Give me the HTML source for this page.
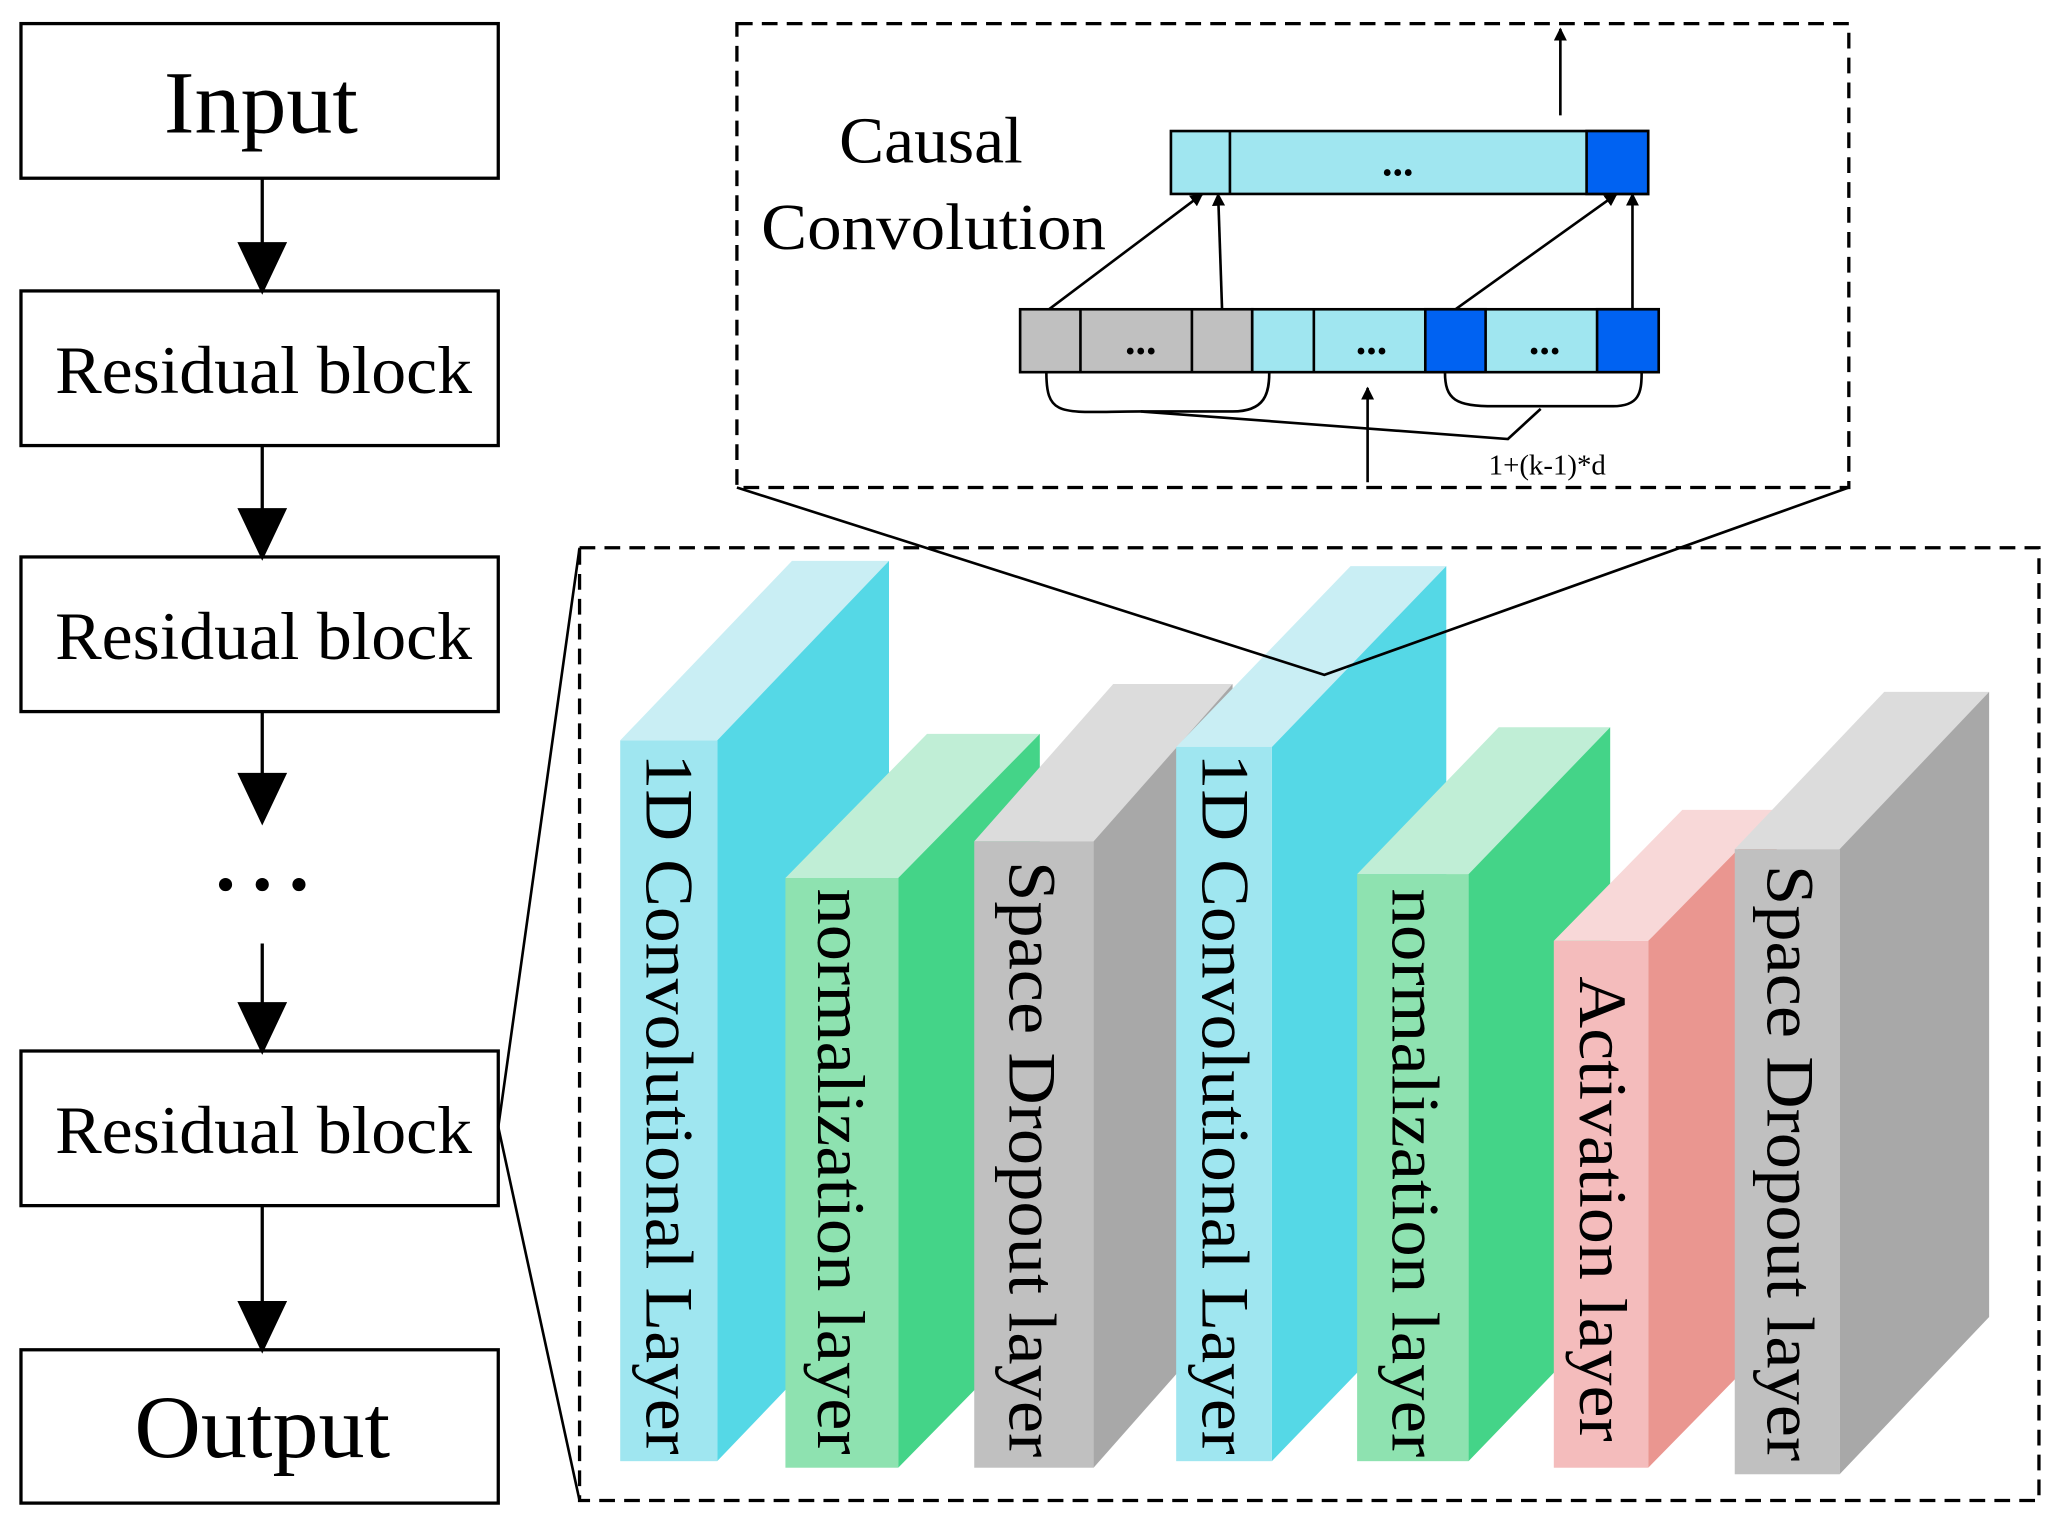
<!DOCTYPE html>
<html><head><meta charset="utf-8"><style>
html,body{margin:0;padding:0;background:#fff;}
svg{display:block;}
text{font-family:"Liberation Serif",serif;fill:#000;}
</style></head><body>
<svg width="2056" height="1528" viewBox="0 0 1568 1166" preserveAspectRatio="none" xmlns="http://www.w3.org/2000/svg">
<defs>
<marker id="ah" markerWidth="10" markerHeight="10" refX="9" refY="5" orient="auto" markerUnits="userSpaceOnUse"><path d="M0,0 L10,5 L0,10 z" fill="#000"/></marker>
</defs>
<!-- left column -->
<g stroke="#000" stroke-width="2.5" fill="#fff">
<rect x="16" y="18" width="364" height="118"/>
<rect x="16" y="222" width="364" height="118"/>
<rect x="16" y="425" width="364" height="118"/>
<rect x="16" y="802" width="364" height="118"/>
<rect x="16" y="1030" width="364" height="117"/>
</g>
<g font-size="68" text-anchor="middle" lengthAdjust="spacingAndGlyphs">
<text x="199" y="101" textLength="148" lengthAdjust="spacingAndGlyphs">Input</text>
<text x="200" y="1112" textLength="195" lengthAdjust="spacingAndGlyphs">Output</text>
</g>
<g font-size="52" text-anchor="middle">
<text x="201" y="300" textLength="318" lengthAdjust="spacingAndGlyphs">Residual block</text>
<text x="201" y="503" textLength="318" lengthAdjust="spacingAndGlyphs">Residual block</text>
<text x="201" y="880" textLength="318" lengthAdjust="spacingAndGlyphs">Residual block</text>
</g>
<circle cx="172" cy="675" r="5"/><circle cx="200" cy="675" r="5"/><circle cx="228" cy="675" r="5"/>
<g stroke="#000" stroke-width="2.5">
<line x1="200" y1="136" x2="200" y2="190"/><path d="M183,186 L217,186 L200,222 z" fill="#000"/>
<line x1="200" y1="340" x2="200" y2="393"/><path d="M183,389 L217,389 L200,425 z" fill="#000"/>
<line x1="200" y1="543" x2="200" y2="595"/><path d="M183,591 L217,591 L200,627 z" fill="#000"/>
<line x1="200" y1="720" x2="200" y2="770"/><path d="M183,766 L217,766 L200,802 z" fill="#000"/>
<line x1="200" y1="920" x2="200" y2="998"/><path d="M183,994 L217,994 L200,1030 z" fill="#000"/>
</g>
<!-- dashed boxes -->
<g fill="none" stroke="#000" stroke-width="2.5" stroke-dasharray="12,7">
<rect x="442" y="418" width="1113" height="727"/>
<rect x="562" y="18" width="848" height="354"/>
</g>
<polyline points="442,418 380,860 442,1145" stroke="#000" stroke-width="2" fill="none"/>
<!-- blocks -->
<g stroke="none">
<polygon points="473,565 547,565 678,428 604,428" fill="#c9eef4"/>
<polygon points="547,565 678,428 678,978 547,1115" fill="#55d8e6"/>
<rect x="473" y="565" width="74" height="550" fill="#9fe6f0"/>
<polygon points="599,670 685,670 793,560 707,560" fill="#c0eed6"/>
<polygon points="685,670 793,560 793,1010 685,1120" fill="#44d488"/>
<rect x="599" y="670" width="86" height="450" fill="#8ee2b0"/>
<polygon points="743,642 834,642 940,522 849,522" fill="#dcdcdc"/>
<polygon points="834,642 940,522 940,1000 834,1120" fill="#a8a8a8"/>
<rect x="743" y="642" width="91" height="478" fill="#c0c0c0"/>
<polygon points="897,570 970,570 1103,432 1030,432" fill="#c9eef4"/>
<polygon points="970,570 1103,432 1103,977 970,1115" fill="#55d8e6"/>
<rect x="897" y="570" width="73" height="545" fill="#9fe6f0"/>
<polygon points="1035,667 1120,667 1228,555 1143,555" fill="#c0eed6"/>
<polygon points="1120,667 1228,555 1228,1003 1120,1115" fill="#44d488"/>
<rect x="1035" y="667" width="85" height="448" fill="#8ee2b0"/>
<polygon points="1185,718 1257,718 1355,618 1283,618" fill="#f8d8d8"/>
<polygon points="1257,718 1355,618 1355,1020 1257,1120" fill="#ea9690"/>
<rect x="1185" y="718" width="72" height="402" fill="#f4bcbc"/>
<polygon points="1323,648 1403,648 1517,528 1437,528" fill="#dcdcdc"/>
<polygon points="1403,648 1517,528 1517,1005 1403,1125" fill="#a8a8a8"/>
<rect x="1323" y="648" width="80" height="477" fill="#c0c0c0"/>
</g>
<g font-size="52">
<text transform="translate(493,575) rotate(90)" textLength="535" lengthAdjust="spacingAndGlyphs">1D Convolutional Layer</text>
<text transform="translate(624,678) rotate(90)" textLength="432" lengthAdjust="spacingAndGlyphs">normalization layer</text>
<text transform="translate(770,657) rotate(90)" textLength="455" lengthAdjust="spacingAndGlyphs">Space Dropout layer</text>
<text transform="translate(917,575) rotate(90)" textLength="535" lengthAdjust="spacingAndGlyphs">1D Convolutional Layer</text>
<text transform="translate(1062,678) rotate(90)" textLength="434" lengthAdjust="spacingAndGlyphs">normalization layer</text>
<text transform="translate(1205,745) rotate(90)" textLength="355" lengthAdjust="spacingAndGlyphs">Activation layer</text>
<text transform="translate(1348,660) rotate(90)" textLength="455" lengthAdjust="spacingAndGlyphs">Space Dropout layer</text>
</g>
<polyline points="562,372 1010,515 1410,372" fill="none" stroke="#000" stroke-width="2"/>
<!-- causal conv -->
<text x="710" y="124" font-size="50" text-anchor="middle" textLength="140" lengthAdjust="spacingAndGlyphs">Causal</text>
<text x="712" y="190" font-size="50" text-anchor="middle" textLength="263" lengthAdjust="spacingAndGlyphs">Convolution</text>
<g stroke="#000" stroke-width="2">
<rect x="893" y="100" width="364" height="48" fill="#a0e6f0"/>
<line x1="938" y1="100" x2="938" y2="148"/>
<rect x="1210" y="100" width="47" height="48" fill="#0062f2"/>
<rect x="778" y="236" width="177" height="48" fill="#c0c0c0"/>
<line x1="824" y1="236" x2="824" y2="284"/><line x1="909" y1="236" x2="909" y2="284"/>
<rect x="955" y="236" width="310" height="48" fill="#a0e6f0"/>
<line x1="1002" y1="236" x2="1002" y2="284"/>
<rect x="1087" y="236" width="46" height="48" fill="#0062f2"/>
<rect x="1218" y="236" width="47" height="48" fill="#0062f2"/>
<line x1="1190" y1="88" x2="1190" y2="22" marker-end="url(#ah)"/>
<line x1="800" y1="236" x2="917" y2="148" marker-end="url(#ah)"/>
<line x1="932" y1="236" x2="929" y2="148" marker-end="url(#ah)"/>
<line x1="1110" y1="236" x2="1233" y2="148" marker-end="url(#ah)"/>
<line x1="1245" y1="236" x2="1245" y2="148" marker-end="url(#ah)"/>
<g fill="none">
<path d="M798,284 C798,320 810,314 870,314 L940,314 C965,314 968,300 968,284"/>
<path d="M1102,284 C1102,305 1110,310 1140,310 L1230,310 C1250,310 1252,300 1252,284"/>
<polyline points="870,314 1150,335 1175,312"/>
</g>
<line x1="1043" y1="368" x2="1043" y2="296" marker-end="url(#ah)"/>
</g>
<g font-size="32" text-anchor="middle" font-weight="bold">
<text x="1066" y="134">...</text>
<text x="870" y="270">...</text>
<text x="1046" y="270">...</text>
<text x="1178" y="270">...</text>
</g>
<text x="1180" y="362" font-size="22" text-anchor="middle">1+(k-1)*d</text>
</svg>
</body></html>
